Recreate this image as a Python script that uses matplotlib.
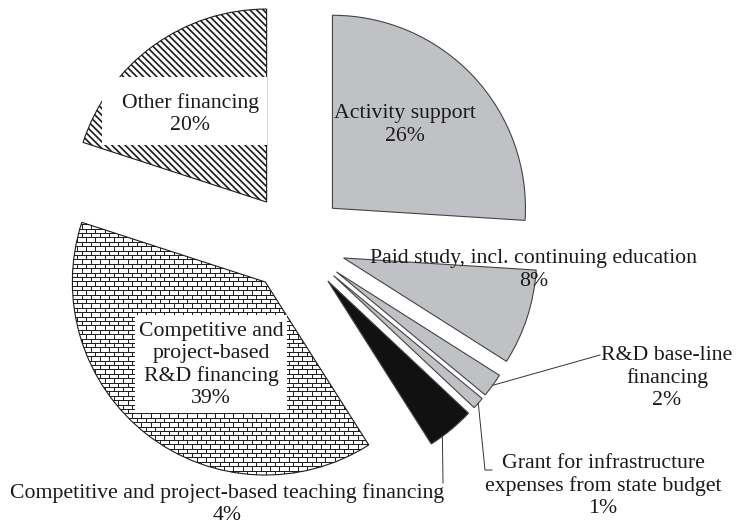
import numpy as np
import matplotlib.pyplot as plt
from matplotlib.collections import LineCollection
from matplotlib.patches import Rectangle

# shares in %, clockwise from 12 o'clock
labels = [
    "Activity support\n26%",
    "Paid study, incl. continuing education\n8%",
    "R&D base-line\nfinancing\n2%",
    "Grant for infrastructure\nexpenses from state budget\n1%",
    "Competitive and project-based teaching financing\n4%",
    "Competitive and\nproject-based\nR&D financing\n39%",
    "Other financing\n20%",
]
shares = [26, 8, 2, 1, 4, 39, 20]

GRAY = "#c0c1c5"
colors = [GRAY, GRAY, GRAY, GRAY, "#111111", "white", "white"]

W, H = 739, 526


def main():
    plt.rcParams['font.family'] = ['Liberation Serif', 'DejaVu Serif']
    plt.rcParams['hatch.linewidth'] = 1.2

    fig = plt.figure(figsize=(W / 100, H / 100), dpi=100)
    ax = fig.add_axes([0, 0, 1, 1])

    # work in pixel units: radius 193 px, every slice pulled out by 50 px
    wedges, _ = ax.pie(shares, startangle=90, counterclock=False,
                       center=(296, H - 242.5), radius=193,
                       explode=[50] * len(shares), colors=colors,
                       wedgeprops=dict(edgecolor="#444444", linewidth=0.8))
    ax.set_xlim(0, W)
    ax.set_ylim(0, H)
    ax.axis('off')

    # other financing: dense diagonal hatch
    wedges[6].set_hatch('\\' * 5)
    wedges[6].set_edgecolor("#1a1a1a")

    # competitive R&D: brick pattern clipped to the wedge
    rd = wedges[5]
    rd.set_edgecolor("#1a1a1a")
    ext = rd.get_path().get_extents()
    row_h, brick_w = 4.4, 9.2
    segs = []
    ys = np.arange(ext.y0, ext.y1 + row_h, row_h)
    for k, y in enumerate(ys):
        segs.append([(ext.x0, y), (ext.x1, y)])
        off = 0 if k % 2 == 0 else brick_w / 2
        for x in np.arange(ext.x0 + off, ext.x1, brick_w):
            segs.append([(x, y), (x, y + row_h)])
    bricks = LineCollection(segs, colors="#1a1a1a", linewidths=0.7, zorder=2)
    ax.add_collection(bricks)
    bricks.set_clip_path(rd)

    # white label panels over the two patterned slices
    ax.add_patch(Rectangle((102, H - 145), 165, 68, facecolor='white',
                           edgecolor='none', zorder=4))
    ax.add_patch(Rectangle((135, H - 413), 152, 98, facecolor='white',
                           edgecolor='none', zorder=4))

    fs = 15.7
    txt = dict(fontsize=fs, ha='center', va='center', color="#1a1a1a",
               linespacing=1.22, zorder=5)

    ax.text(405, H - 125, labels[0], **txt)
    ax.text(534, H - 270, labels[1], **txt)
    ax.text(667, H - 378, labels[2], **txt)
    ax.text(603, H - 486, labels[3], **txt)
    ax.text(227, H - 504, labels[4], **txt)
    ax.text(211, H - 365, labels[5], **txt)
    ax.text(190, H - 114, labels[6], **txt)

    # leader lines from the small slices
    def arc_point(w, ang):
        cx, cy = w.center
        a = np.deg2rad(ang)
        return cx + w.r * np.cos(a), cy + w.r * np.sin(a)

    lc = dict(color="#333333", linewidth=0.7, zorder=4)
    x0, y0 = arc_point(wedges[2], 0.5 * (wedges[2].theta1 + wedges[2].theta2))
    ax.plot([x0, 600], [y0, H - 355], **lc)
    x0, y0 = arc_point(wedges[3], 0.5 * (wedges[3].theta1 + wedges[3].theta2))
    ax.plot([x0, 485, 492], [y0, H - 470, H - 470], **lc)
    x0, y0 = arc_point(wedges[4], wedges[4].theta1 + 4)
    ax.plot([x0, 443], [y0, H - 483], **lc)

    fig.savefig("out.png", dpi=100, facecolor='white')


if __name__ == '__main__':
    main()
